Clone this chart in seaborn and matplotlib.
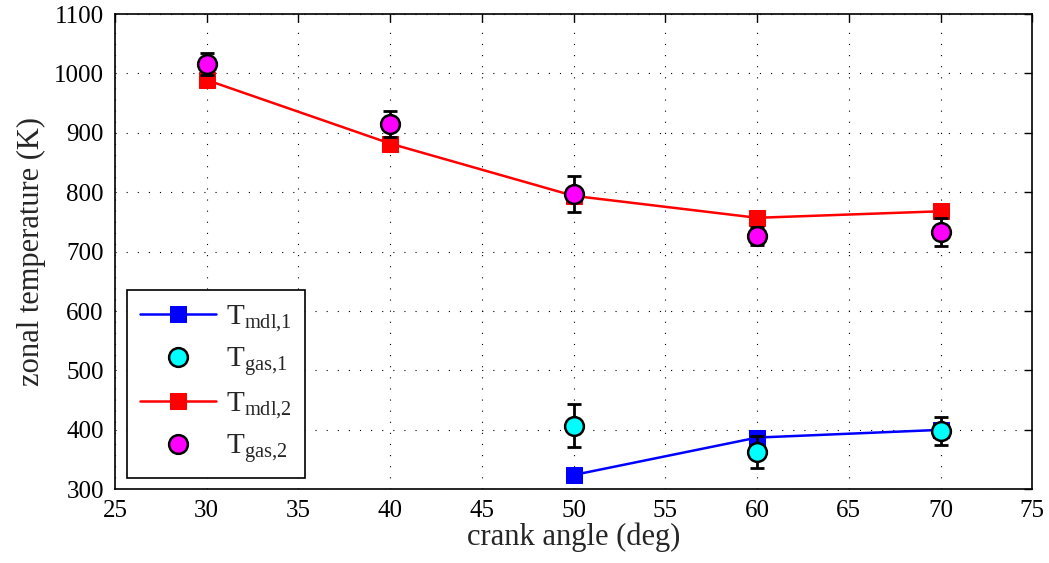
import matplotlib
matplotlib.use("Agg")
import matplotlib.pyplot as plt
import seaborn as sns
import pandas as pd

# ---- data ----
angle_mdl1 = [50, 60, 70]
T_mdl1 = [324, 387, 400]
angle_gas1 = [50, 60, 70]
T_gas1 = [407, 362, 398]
err_gas1 = [36, 27, 24]

angle_mdl2 = [30, 40, 50, 60, 70]
T_mdl2 = [989, 882, 794, 757, 768]
angle_gas2 = [30, 40, 50, 60, 70]
T_gas2 = [1016, 915, 797, 726, 733]
err_gas2 = [18, 22, 30, 15, 24]

xticks = [25, 30, 35, 40, 45, 50, 55, 60, 65, 70, 75]
yticks = [300, 400, 500, 600, 700, 800, 900, 1000, 1100]

sns.set_theme(style="white")
plt.rcParams["font.family"] = ["Liberation Serif", "DejaVu Serif"]
plt.rcParams["mathtext.fontset"] = "custom"
plt.rcParams["mathtext.rm"] = "Liberation Serif"
plt.rcParams["mathtext.it"] = "Liberation Serif:italic"

fig = plt.figure(figsize=(10.49, 5.63), dpi=100)
ax = fig.add_axes([0.1096, 0.131, 0.8745, 0.844])

d1 = pd.DataFrame({"x": angle_mdl1, "y": T_mdl1})
d2 = pd.DataFrame({"x": angle_mdl2, "y": T_mdl2})

ms_sq = 12
ms_c = 13.5
sns.lineplot(data=d1, x="x", y="y", ax=ax, color="#0000ff", lw=1.8, marker="s",
             markersize=ms_sq, markeredgecolor="#0000ff", label=r"$\mathrm{T}_{\mathrm{mdl{,}1}}$", zorder=3)
ax.errorbar(angle_gas1, T_gas1, yerr=err_gas1, fmt="none", ecolor="black",
            elinewidth=2, capsize=5, capthick=2, zorder=4)
ax.plot(angle_gas1, T_gas1, ls="none", marker="o", markersize=ms_c, markerfacecolor="#00ffff",
        markeredgecolor="black", markeredgewidth=1.8, label=r"$\mathrm{T}_{\mathrm{gas{,}1}}$", zorder=5)
sns.lineplot(data=d2, x="x", y="y", ax=ax, color="#ff0000", lw=1.8, marker="s",
             markersize=ms_sq, markeredgecolor="#ff0000", label=r"$\mathrm{T}_{\mathrm{mdl{,}2}}$", zorder=3)
ax.errorbar(angle_gas2, T_gas2, yerr=err_gas2, fmt="none", ecolor="black",
            elinewidth=2, capsize=5, capthick=2, zorder=4)
ax.plot(angle_gas2, T_gas2, ls="none", marker="o", markersize=ms_c, markerfacecolor="#ff00ff",
        markeredgecolor="black", markeredgewidth=1.8, label=r"$\mathrm{T}_{\mathrm{gas{,}2}}$", zorder=5)

ax.set_xlim(25, 75)
ax.set_ylim(300, 1100)
ax.set_xticks(xticks)
ax.set_yticks(yticks)
ax.grid(True, color="black", linestyle=(0, (1, 9)), linewidth=0.8)
ax.tick_params(direction="in", length=6, width=1, top=True, right=True,
               labelsize=18, colors="black", pad=8)
for s in ax.spines.values():
    s.set_color("black")
    s.set_linewidth(1.2)
ax.set_xlabel("crank angle (deg)", fontsize=22, labelpad=0)
ax.set_ylabel("zonal temperature (K)", fontsize=22, labelpad=6)

leg = ax.legend(loc="lower left", bbox_to_anchor=(0.013, 0.023), fontsize=21, frameon=True,
                fancybox=False, edgecolor="black", framealpha=1, borderpad=0.45,
                labelspacing=0.4, handlelength=2.6, handletextpad=0.35, borderaxespad=0)
leg.get_frame().set_linewidth(1.2)

fig.savefig("out.png", dpi=100)
